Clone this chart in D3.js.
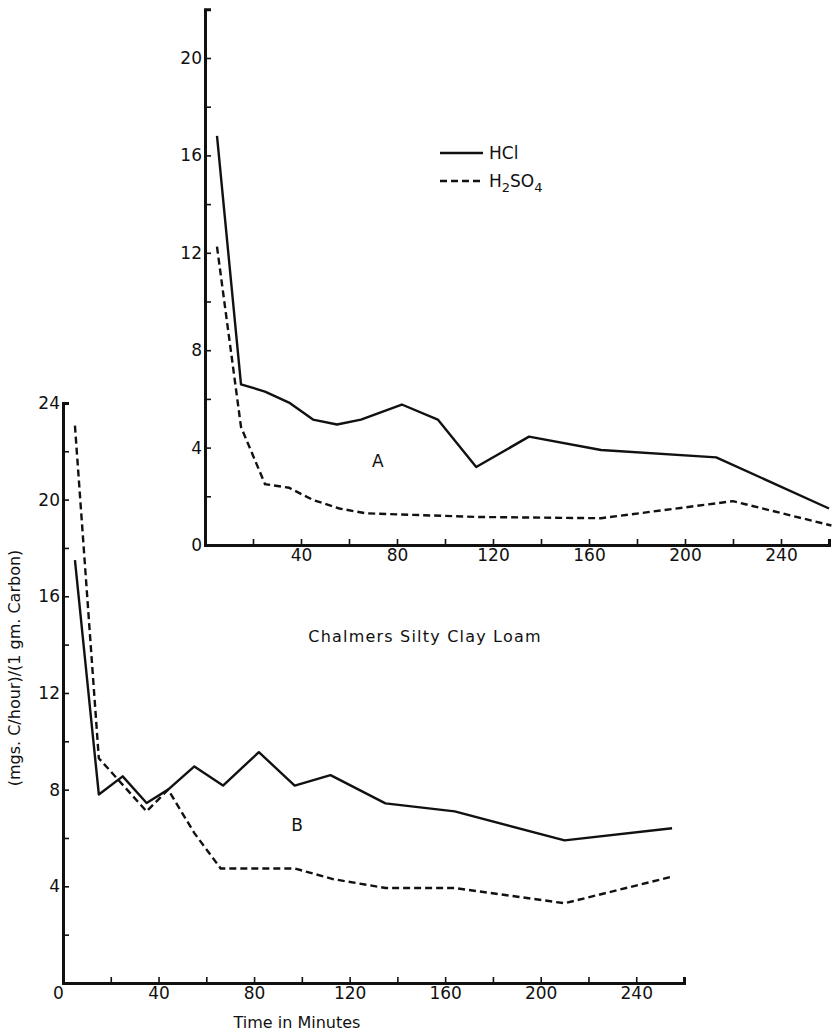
<!DOCTYPE html>
<html>
<head>
<meta charset="utf-8">
<script src="https://cdn.jsdelivr.net/npm/d3@7"></script>
<style>
  body { margin: 0; background: #fff; }
  text { font-family: "DejaVu Sans", sans-serif; fill: #111; }
</style>
</head>
<body>
<div id="chart"></div>
<script>
// Panel A (top)
const timeA_HCl   = [5, 15, 25, 35, 45, 55, 65, 82, 97, 113, 135, 165, 213, 260];
const valueA_HCl  = [16.8, 6.6, 6.3, 5.85, 5.15, 4.95, 5.15, 5.77, 5.15, 3.2, 4.45, 3.9, 3.6, 1.5];
const timeA_H2SO4  = [5, 15, 25, 35, 45, 56, 67, 114, 165, 220, 261];
const valueA_H2SO4 = [12.25, 4.85, 2.5, 2.35, 1.85, 1.5, 1.3, 1.15, 1.1, 1.8, 0.8];

// Panel B (bottom)
const timeB_HCl   = [5, 15, 25, 35, 44, 55, 67, 82, 97, 112, 135, 164, 210, 255];
const valueB_HCl  = [17.5, 7.8, 8.55, 7.45, 8.0, 8.96, 8.17, 9.55, 8.17, 8.6, 7.43, 7.1, 5.9, 6.4];
const timeB_H2SO4  = [5, 15, 35, 44, 55, 66, 97, 113, 135, 164, 210, 255];
const valueB_H2SO4 = [23.06, 9.3, 7.1, 8.0, 6.2, 4.74, 4.74, 4.3, 3.93, 3.93, 3.3, 4.4];

const xTicks = [0, 20, 40, 60, 80, 100, 120, 140, 160, 180, 200, 220, 240, 260];

const W = 834, H = 1036;
const svg = d3.select("#chart").append("svg")
    .attr("width", W)
    .attr("height", H);

function drawPanel(opt) {
    const x = d3.scaleLinear().domain([0, 260]).range(opt.xRange);
    const y = d3.scaleLinear().domain([0, opt.yMax]).range(opt.yRange);

    const yTicks = d3.range(0, opt.yMax + 0.1, 2);

    const xAxis = d3.axisBottom(x)
        .tickValues(xTicks)
        .tickSizeInner(-6)
        .tickSizeOuter(-6)
        .tickPadding(4)
        .tickFormat(d => (d % 40 === 0 && d < 260 && (d > 0 || opt.xZero)) ? d : "");
    const yAxis = d3.axisLeft(y)
        .tickValues(yTicks)
        .tickSizeInner(-6)
        .tickSizeOuter(-6)
        .tickPadding(3)
        .tickFormat(d => (d % 4 === 0 && (d > 0 || opt.yZero)) ? d : "");

    const gx = svg.append("g")
        .attr("transform", `translate(0,${opt.yRange[0]})`)
        .call(xAxis);
    const gy = svg.append("g")
        .attr("transform", `translate(${opt.xRange[0]},0)`)
        .call(yAxis);

    [gx, gy].forEach(g => {
        g.select(".domain").attr("stroke", "#111").attr("stroke-width", 3);
        g.selectAll(".tick line").attr("stroke", "#111").attr("stroke-width", 1.6);
        g.selectAll(".tick text").style("font-size", "17px").attr("fill", "#111");
    });
    if (opt.xZero) gx.selectAll(".tick text").filter(d => d === 0).attr("dx", -5);

    const line = d3.line()
        .x(d => x(d[0]))
        .y(d => y(d[1]));

    svg.append("path")
        .datum(d3.zip(opt.tHCl, opt.vHCl))
        .attr("d", line)
        .attr("fill", "none")
        .attr("stroke", "#111")
        .attr("stroke-width", 2.4)
        .attr("stroke-linejoin", "round");

    svg.append("path")
        .datum(d3.zip(opt.tH2SO4, opt.vH2SO4))
        .attr("d", line)
        .attr("fill", "none")
        .attr("stroke", "#111")
        .attr("stroke-width", 2.4)
        .attr("stroke-dasharray", "7,4");

    svg.append("text")
        .attr("x", x(opt.label[0]))
        .attr("y", y(opt.label[1]))
        .attr("text-anchor", "middle")
        .style("font-size", "17px")
        .text(opt.label[2]);

    return {x, y};
}

drawPanel({
    xRange: [205, 829], yRange: [545, 545 - 22 * 24.35], yMax: 22,
    tHCl: timeA_HCl, vHCl: valueA_HCl, tH2SO4: timeA_H2SO4, vH2SO4: valueA_H2SO4,
    xZero: false, yZero: true, label: [72, 3.2, "A"]
});

drawPanel({
    xRange: [63, 684], yRange: [983, 983 - 24 * 24.17], yMax: 24,
    tHCl: timeB_HCl, vHCl: valueB_HCl, tH2SO4: timeB_H2SO4, vH2SO4: valueB_H2SO4,
    xZero: true, yZero: false, label: [98, 6.3, "B"]
});

// legend
const legend = svg.append("g").attr("transform", "translate(440,0)");
legend.append("line").attr("x1", 0).attr("x2", 43).attr("y1", 153).attr("y2", 153)
    .attr("stroke", "#111").attr("stroke-width", 2.4);
legend.append("line").attr("x1", 0).attr("x2", 43).attr("y1", 181).attr("y2", 181)
    .attr("stroke", "#111").attr("stroke-width", 2.4).attr("stroke-dasharray", "7,4");
legend.append("text").attr("x", 49).attr("y", 159).style("font-size", "17px").text("HCl");
const t2 = legend.append("text").attr("x", 49).attr("y", 187).style("font-size", "17px");
t2.append("tspan").text("H");
t2.append("tspan").attr("dy", 5).style("font-size", "13px").text("2");
t2.append("tspan").attr("dy", -5).text("SO");
t2.append("tspan").attr("dy", 5).style("font-size", "13px").text("4");

// titles
svg.append("text")
    .attr("x", 425).attr("y", 642)
    .attr("text-anchor", "middle")
    .style("font-size", "16px")
    .style("letter-spacing", "1.2px")
    .text("Chalmers Silty Clay Loam");

svg.append("text")
    .attr("x", 297).attr("y", 1028)
    .attr("text-anchor", "middle")
    .style("font-size", "16px")
    .text("Time in Minutes");

svg.append("text")
    .attr("transform", "translate(20,668) rotate(-90)")
    .attr("text-anchor", "middle")
    .style("font-size", "16px")
    .text("(mgs. C/hour)/(1 gm. Carbon)");
</script>
</body>
</html>
